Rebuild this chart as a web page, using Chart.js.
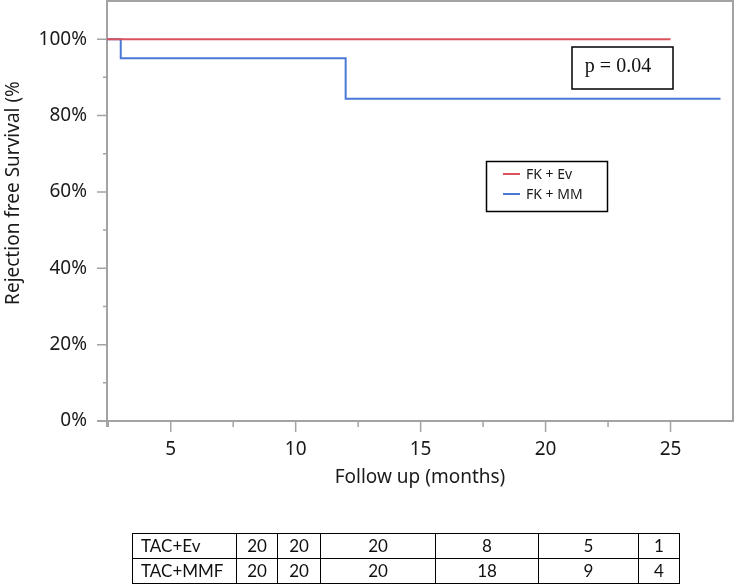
<!DOCTYPE html>
<html>
<head>
<meta charset="utf-8">
<title>Rejection free survival</title>
<script src="https://cdn.jsdelivr.net/npm/chart.js@4.4.0/dist/chart.umd.min.js"></script>
<style>
  body { margin: 0; background: #fff; }
  #wrap { position: relative; width: 735px; height: 584px; overflow: hidden; }
  #myChart { position: absolute; left: 0; top: 0; }
  #atRisk { position: absolute; left: 132px; top: 533px; border-collapse: collapse; table-layout: fixed;
    font-family: Lato, "Open Sans", sans-serif; font-size: 17px; color: #111; }
  #atRisk td { border: 1px solid #000; height: 24px; padding: 0; text-align: center; line-height: 24px; }
  #atRisk td.name { text-align: left; padding-left: 8px; }
</style>
</head>
<body>
<div id="wrap">
  <canvas id="myChart" width="735" height="584"></canvas>
  <table id="atRisk"></table>
</div>
<script>
// Kaplan-Meier steps
let evTimes = [0, 25];
let evSurvival = [100, 100];
let mmTimes = [0, 3, 12, 27];
let mmSurvival = [100, 95, 84.4, 84.4];

let seriesNames = ['FK + Ev', 'FK + MM'];
let seriesColors = ['#d9525c', '#4a78d6'];

let xTicks = [5, 10, 15, 20, 25];
let xMinorTicks = [2.5, 7.5, 12.5, 17.5, 22.5];
let yTicks = [0, 20, 40, 60, 80, 100];
let yMinorTicks = [10, 30, 50, 70, 90];

let xTitle = 'Follow up (months)';
let yTitle = 'Rejection free Survival (%';
let pValueText = 'p = 0.04';

// numbers at risk table
let riskNames = ['TAC+Ev', 'TAC+MMF'];
let tacEvAtRisk = [20, 20, 20, 8, 5, 1];
let tacMmfAtRisk = [20, 20, 20, 18, 9, 4];
let riskColWidths = [104, 41, 43, 115, 103, 100, 41];

let axisGray = '#a3a3a3';
let tickFont = { family: 'Noto Sans', size: 19 };

function toPoints(xs, ys) {
  let pts = [];
  for (let i = 0; i < xs.length; i++) {
    pts.push({ x: xs[i], y: ys[i] });
  }
  return pts;
}

function buildTable() {
  let table = document.getElementById('atRisk');
  let colgroup = document.createElement('colgroup');
  for (let i = 0; i < riskColWidths.length; i++) {
    let col = document.createElement('col');
    col.style.width = riskColWidths[i] + 'px';
    colgroup.appendChild(col);
  }
  table.appendChild(colgroup);
  let rows = [tacEvAtRisk, tacMmfAtRisk];
  for (let r = 0; r < rows.length; r++) {
    let tr = document.createElement('tr');
    let nameTd = document.createElement('td');
    nameTd.className = 'name';
    nameTd.textContent = riskNames[r];
    tr.appendChild(nameTd);
    for (let c = 0; c < rows[r].length; c++) {
      let td = document.createElement('td');
      td.textContent = rows[r][c];
      tr.appendChild(td);
    }
    table.appendChild(tr);
  }
}

let extras = {
  id: 'extras',
  afterDraw(chart) {
    let ctx = chart.ctx;
    let area = chart.chartArea;
    let xs = chart.scales.x;
    let ys = chart.scales.y;
    ctx.save();

    // frame top / right + small overhangs
    ctx.strokeStyle = axisGray;
    ctx.lineWidth = 2;
    ctx.beginPath();
    ctx.moveTo(area.left, area.top);
    ctx.lineTo(area.right, area.top);
    ctx.lineTo(area.right, area.bottom);
    ctx.moveTo(area.left - 10, area.bottom);
    ctx.lineTo(area.left, area.bottom);
    ctx.moveTo(area.left, area.bottom);
    ctx.lineTo(area.left, area.bottom + 6);
    ctx.stroke();

    // tick marks
    ctx.lineWidth = 1.5;
    ctx.beginPath();
    for (let i = 0; i < yTicks.length; i++) {
      let y = ys.getPixelForValue(yTicks[i]);
      ctx.moveTo(area.left - 10, y);
      ctx.lineTo(area.left, y);
    }
    for (let i = 0; i < yMinorTicks.length; i++) {
      let y = ys.getPixelForValue(yMinorTicks[i]);
      ctx.moveTo(area.left - 4, y);
      ctx.lineTo(area.left, y);
    }
    for (let i = 0; i < xTicks.length; i++) {
      let x = xs.getPixelForValue(xTicks[i]);
      ctx.moveTo(x, area.bottom);
      ctx.lineTo(x, area.bottom + 11);
    }
    for (let i = 0; i < xMinorTicks.length; i++) {
      let x = xs.getPixelForValue(xMinorTicks[i]);
      ctx.moveTo(x, area.bottom);
      ctx.lineTo(x, area.bottom + 6);
    }
    ctx.stroke();

    // axis titles
    ctx.fillStyle = '#1a1a1a';
    ctx.font = '19px "Noto Sans"';
    ctx.textAlign = 'center';
    ctx.textBaseline = 'middle';
    ctx.fillText(xTitle, (area.left + area.right) / 2, 478);
    ctx.save();
    ctx.translate(14, 193);
    ctx.rotate(-Math.PI / 2);
    ctx.fillText(yTitle, 0, 0);
    ctx.restore();

    // legend box
    ctx.strokeStyle = '#000';
    ctx.lineWidth = 1.5;
    ctx.strokeRect(486.5, 161.5, 121, 50);
    ctx.font = '14px "Noto Sans"';
    ctx.textAlign = 'left';
    let legendY = [174, 194];
    for (let i = 0; i < seriesNames.length; i++) {
      ctx.strokeStyle = seriesColors[i];
      ctx.lineWidth = 2;
      ctx.beginPath();
      ctx.moveTo(503, legendY[i]);
      ctx.lineTo(520, legendY[i]);
      ctx.stroke();
      ctx.fillStyle = '#1a1a1a';
      ctx.fillText(seriesNames[i], 526, legendY[i] + 1);
    }

    // p value box
    ctx.strokeStyle = '#000';
    ctx.lineWidth = 1.5;
    ctx.strokeRect(572, 47, 101, 42);
    ctx.fillStyle = '#111';
    ctx.font = '20px "Liberation Serif"';
    ctx.textAlign = 'center';
    ctx.fillText(pValueText, 618, 67);

    ctx.restore();
  }
};

buildTable();

const ctx = document.getElementById('myChart').getContext('2d');
const myChart = new Chart(ctx, {
  type: 'line',
  data: {
    datasets: [{
      label: seriesNames[0],
      data: toPoints(evTimes, evSurvival),
      borderColor: seriesColors[0],
      borderWidth: 2,
      stepped: 'before',
      pointRadius: 0,
      fill: false
    }, {
      label: seriesNames[1],
      data: toPoints(mmTimes, mmSurvival),
      borderColor: seriesColors[1],
      borderWidth: 2,
      stepped: 'before',
      pointRadius: 0,
      fill: false
    }]
  },
  options: {
    responsive: false,
    animation: false,
    layout: { padding: { top: 1, right: 2, left: 0, bottom: 0 } },
    plugins: {
      legend: { display: false },
      tooltip: { enabled: false }
    },
    scales: {
      x: {
        type: 'linear',
        min: 2.45,
        max: 27.5,
        afterBuildTicks: (scale) => { scale.ticks = xTicks.map(v => ({ value: v })); },
        afterFit: (scale) => {
          scale.height = 163;
          scale.paddingLeft = 0;
          scale.paddingRight = 0;
        },
        grid: { display: false, drawTicks: false },
        border: { display: true, color: axisGray, width: 2 },
        ticks: { font: tickFont, color: '#1a1a1a', padding: 17, maxRotation: 0 }
      },
      y: {
        type: 'linear',
        min: 0,
        max: 110,
        afterBuildTicks: (scale) => { scale.ticks = yTicks.map(v => ({ value: v })); },
        afterFit: (scale) => {
          scale.width = 107;
          scale.paddingTop = 0;
          scale.paddingBottom = 0;
        },
        grid: { display: false, drawTicks: false },
        border: { display: true, color: axisGray, width: 2 },
        ticks: { font: tickFont, color: '#1a1a1a', padding: 20, callback: (v) => v + '%' }
      }
    }
  },
  plugins: [extras]
});
</script>
</body>
</html>
